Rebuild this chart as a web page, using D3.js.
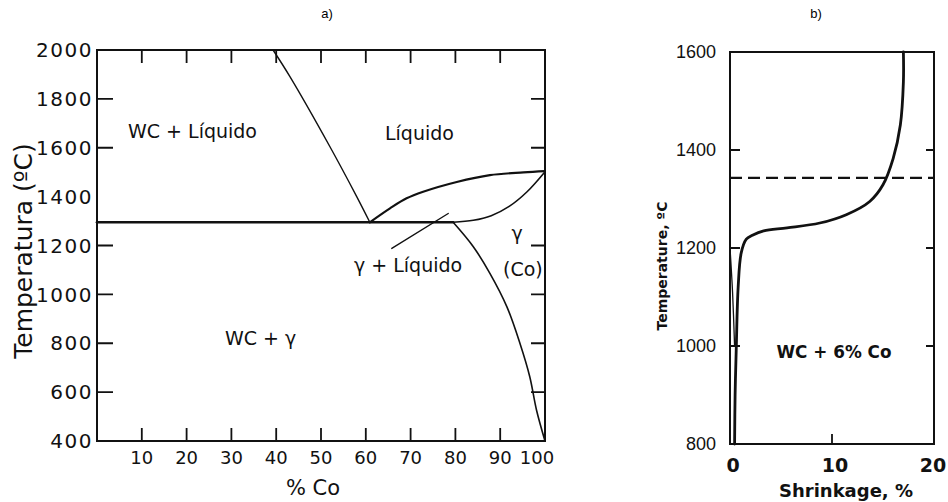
<!DOCTYPE html>
<html>
<head>
<meta charset="utf-8">
<script src="https://cdn.jsdelivr.net/npm/d3@7"></script>
<style>
  body { margin: 0; background: #fff; }
  svg { display: block; }
  .frame { fill: none; stroke: #111; stroke-width: 2; }
  .tk { stroke: #111; stroke-width: 1.8; }
  .phase { fill: none; stroke: #111; stroke-linecap: round; }
</style>
</head>
<body>
<div id="chart"></div>
<script>
// ---- a) WC-Co phase diagram ----
const coTicks = [10, 20, 30, 40, 50, 60, 70, 80, 90, 100];
const coTickMarks = [10, 20, 30, 40, 50, 60, 70, 80, 90];
const tempTicksA = [400, 600, 800, 1000, 1200, 1400, 1600, 1800, 2000];
const sideTicksA = [600, 800, 1000, 1200, 1600, 1800];

const eutectic = [[0, 1295], [79.5, 1295]];
const liquidusWC = [[39.3, 2000], [43.1, 1890], [52, 1604], [58, 1399], [60.9, 1295]];
const liquidusGamma = [[60.9, 1295], [65.4, 1352], [69.1, 1393], [72.8, 1420], [80.3, 1460], [87.7, 1488], [95.2, 1499], [100, 1504]];
const solidusGamma = [[79.5, 1295], [84, 1303], [88, 1322], [92, 1360], [96, 1420], [100, 1502]];
const solvus = [[79.5, 1295], [84, 1195], [87.7, 1086], [91.5, 949], [94.4, 800], [96.6, 663], [98.1, 527], [100, 400]];
const leader = [[65.8, 1188], [78.4, 1331]];

// ---- b) shrinkage curve ----
const shrinkTicks = [0, 10, 20];
const tempTicksB = [800, 1000, 1200, 1400, 1600];
const sideTicksB = [1000, 1200, 1400];
const shrinkage = [[0.45, 800], [0.5, 900], [0.62, 1000], [0.8, 1120], [1.1, 1190], [1.6, 1218], [2.2, 1226], [3.3, 1235], [5.6, 1241], [8.8, 1251], [11.4, 1268], [13.7, 1295], [15, 1329], [16, 1383], [16.7, 1451], [17, 1539], [17, 1600]];
const shrinkBranch = [[0, 1200], [0.25, 1110], [0.45, 1000]];
const meltTemp = 1343;

const svg = d3.select("#chart").append("svg")
    .attr("width", 948)
    .attr("height", 502);

// panel titles
svg.append("text").attr("x", 327).attr("y", 18).attr("text-anchor", "middle")
    .style("font", "13px 'Liberation Sans'").text("a)");
svg.append("text").attr("x", 816).attr("y", 18).attr("text-anchor", "middle")
    .style("font", "13px 'Liberation Sans'").text("b)");

// inward tick marks, drawn as paths from the scales
function vTicks(g, vals, x, y0, len) {
  g.append("path").attr("class", "tk").attr("fill", "none")
      .attr("d", vals.map(d => "M" + x(d) + "," + y0 + "v" + len).join(""));
}
function hTicks(g, vals, y, x0, len) {
  g.append("path").attr("class", "tk").attr("fill", "none")
      .attr("d", vals.map(d => "M" + x0 + "," + y(d) + "h" + len).join(""));
}

// ============ chart a ============
var xA = d3.scaleLinear().domain([0, 100]).range([97, 545]);
var yA = d3.scaleLinear().domain([400, 2000]).range([441, 50]);
var fontA = "'DejaVu Sans'";

var gA = svg.append("g");

gA.append("rect").attr("class", "frame")
    .attr("x", xA(0)).attr("y", yA(2000))
    .attr("width", xA(100) - xA(0)).attr("height", yA(400) - yA(2000));

vTicks(gA, coTickMarks, xA, yA(400), -13);
vTicks(gA, coTickMarks, xA, yA(2000), 13);
hTicks(gA, sideTicksA, yA, xA(0), 16);
hTicks(gA, sideTicksA, yA, xA(100), -14);

gA.selectAll("text.xlab").data(coTicks).join("text")
    .attr("class", "xlab")
    .attr("x", d => xA(d) + (d === 100 ? -8 : 0))
    .attr("y", 464)
    .attr("text-anchor", "middle")
    .style("font", "18px " + fontA).attr("fill", "#111")
    .text(d => d);

gA.selectAll("text.ylab").data(tempTicksA).join("text")
    .attr("class", "ylab")
    .attr("x", 93)
    .attr("y", d => yA(d))
    .attr("dy", "0.36em")
    .attr("text-anchor", "end")
    .style("font", "20px " + fontA).style("letter-spacing", "1.5px").attr("fill", "#111")
    .text(d => d);

var lineA = d3.line().x(d => xA(d[0])).y(d => yA(d[1]));
var curveA = d3.line().x(d => xA(d[0])).y(d => yA(d[1])).curve(d3.curveCatmullRom);

gA.append("path").attr("class", "phase").attr("d", lineA(eutectic)).attr("stroke-width", 2.6);
gA.append("path").attr("class", "phase").attr("d", curveA(liquidusWC)).attr("stroke-width", 1.4);
gA.append("path").attr("class", "phase").attr("d", curveA(liquidusGamma)).attr("stroke-width", 2.2);
gA.append("path").attr("class", "phase").attr("d", curveA(solidusGamma)).attr("stroke-width", 1.6);
gA.append("path").attr("class", "phase").attr("d", curveA(solvus)).attr("stroke-width", 1.6);
gA.append("path").attr("class", "phase").attr("d", lineA(leader)).attr("stroke-width", 1.4);

function labelA(txt, x, y, size, anchor) {
  gA.append("text").attr("x", x).attr("y", y)
      .attr("text-anchor", anchor || "start")
      .style("font", size + "px " + fontA).attr("fill", "#111").text(txt);
}
labelA("WC + Líquido", 128, 138, 19);
labelA("Líquido", 385, 140, 19);
labelA("γ + Líquido", 354, 272, 19);
labelA("γ", 517, 240, 19, "middle");
labelA("(Co)", 503, 276, 19);
labelA("WC + γ", 225, 345, 19);

gA.append("text").attr("x", 313).attr("y", 495).attr("text-anchor", "middle")
    .style("font", "21px " + fontA).attr("fill", "#111").text("% Co");

gA.append("text")
    .attr("transform", "translate(32,251) rotate(-90)")
    .attr("text-anchor", "middle")
    .style("font", "25px " + fontA).attr("fill", "#111")
    .text("Temperatura (ºC)");

// ============ chart b ============
var xB = d3.scaleLinear().domain([0, 20]).range([730, 934]);
var yB = d3.scaleLinear().domain([800, 1600]).range([444, 52]);

var gB = svg.append("g");

gB.append("rect").attr("class", "frame")
    .attr("x", xB(0)).attr("y", yB(1600))
    .attr("width", xB(20) - xB(0)).attr("height", yB(800) - yB(1600))
    .attr("stroke-width", 2.4);

vTicks(gB, [10], xB, yB(800), -10);
hTicks(gB, sideTicksB, yB, xB(0), 10);
hTicks(gB, sideTicksB, yB, xB(20), -8);

gB.selectAll("text.xlab").data(shrinkTicks).join("text")
    .attr("class", "xlab")
    .attr("x", d => xB(d) + (d === 20 ? -1 : 3))
    .attr("y", 472)
    .attr("text-anchor", "middle")
    .style("font", "bold 19px 'DejaVu Sans'").attr("fill", "#111")
    .text(d => d);

gB.selectAll("text.ylab").data(tempTicksB).join("text")
    .attr("class", "ylab")
    .attr("x", 716)
    .attr("y", d => yB(d))
    .attr("dy", "0.36em")
    .attr("text-anchor", "end")
    .style("font", "18px 'Liberation Sans'").attr("fill", "#111")
    .text(d => d);

var lineB = d3.line().x(d => xB(d[0])).y(d => yB(d[1])).curve(d3.curveCatmullRom);

gB.append("line")
    .attr("x1", xB(0)).attr("x2", xB(20))
    .attr("y1", yB(meltTemp)).attr("y2", yB(meltTemp))
    .attr("stroke", "#111").attr("stroke-width", 2.2).attr("stroke-dasharray", "12,6");

gB.append("path").attr("class", "phase").attr("d", lineB(shrinkBranch)).attr("stroke-width", 1.3);
gB.append("path").attr("class", "phase").attr("d", lineB(shrinkage)).attr("stroke-width", 2.8);

gB.append("text").attr("x", 834).attr("y", 358).attr("text-anchor", "middle")
    .style("font", "bold 17px 'DejaVu Sans'").attr("fill", "#111")
    .attr("textLength", 115).attr("lengthAdjust", "spacingAndGlyphs")
    .text("WC + 6% Co");

gB.append("text").attr("x", 846).attr("y", 497).attr("text-anchor", "middle")
    .style("font", "bold 18px 'DejaVu Sans'").attr("fill", "#111")
    .text("Shrinkage, %");

gB.append("text")
    .attr("transform", "translate(667,266) rotate(-90)")
    .attr("text-anchor", "middle")
    .style("font", "bold 14px 'DejaVu Sans'").attr("fill", "#111")
    .text("Temperature, ºC");
</script>
</body>
</html>
